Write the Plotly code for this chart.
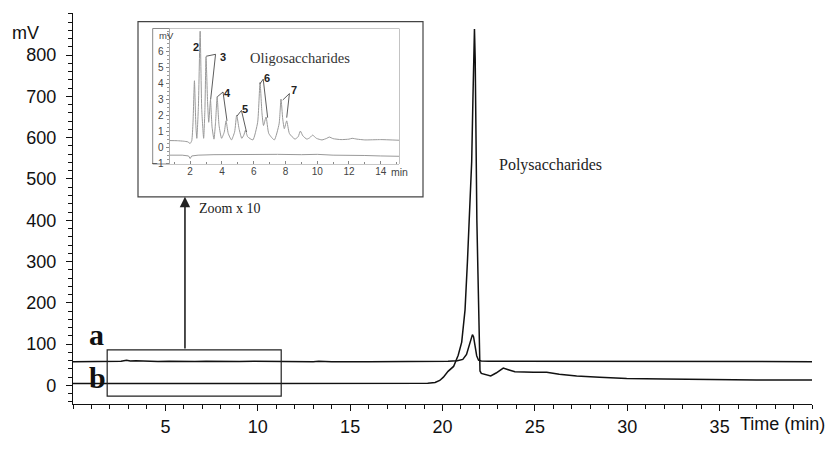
import plotly.graph_objects as go

# ---------------- data ----------------
# main chromatogram a (upper, flat baseline ~58 mV)
a_t = [0, 1, 2, 2.6, 2.9, 3.1, 3.4, 4, 4.6, 5.2, 6, 6.6, 7.2, 7.8, 8.4, 9, 9.8, 10.5, 11.5,
       13, 13.3, 14, 16, 18, 19.5, 20.3, 20.8, 21.1, 21.3, 21.45, 21.55, 21.62, 21.68, 21.75,
       21.85, 21.95, 22.1, 22.5, 23.5, 25, 30, 35, 40]
a_v = [57.5, 57.5, 57.6, 58.5, 61, 59, 59.5, 58.5, 58, 58.6, 57.8, 58.2, 58.6, 57.8, 58.4, 57.9,
       58.5, 58, 57.6, 57.6, 58.3, 57.6, 57.6, 57.6, 57.8, 58.5, 60, 63, 75, 100, 118, 123, 118,
       98, 72, 61, 59, 58.8, 58.8, 58.2, 57.6, 57.5, 57.5]

# main chromatogram b (lower, polysaccharide peak)
b_t = [0, 1, 2, 3, 4, 5, 6, 6.5, 7, 7.5, 8, 8.5, 9, 10, 11, 12, 14, 16, 18, 19.2, 19.6,
       19.85, 20.05, 20.3, 20.6, 20.85, 21.04, 21.22, 21.35, 21.45, 21.58, 21.65, 21.7, 21.73,
       21.77, 21.81, 21.86, 21.92, 21.97, 22.0, 22.03, 22.1, 22.3, 22.61, 22.9, 23.1, 23.29,
       23.56, 23.92, 24.92, 25.64, 26.32, 27.26, 28.5, 29.97, 32, 34.97, 37, 40]
b_v = [4.6, 4.6, 4.8, 4.5, 4.6, 4.5, 4.8, 6, 5.2, 6.2, 5, 5.6, 4.8, 4.6, 4.5, 4.6, 4.6, 4.6,
       4.7, 5, 7, 12, 20, 34, 46, 73, 105, 183, 300, 400, 542, 700, 820, 863, 790, 542, 400,
       270, 181, 100, 35, 29, 26, 23, 30, 36, 42, 38, 33, 32, 32, 27, 23, 20, 17, 15.5, 13.5,
       13, 13]

# inset: oligosaccharides (zoom x 10)
o_t = [0.7, 1.2, 1.6, 1.85, 2.0, 2.1, 2.18, 2.27, 2.36, 2.42, 2.52, 2.63, 2.73, 2.85, 2.93,
       3.0, 3.1, 3.17, 3.28, 3.38, 3.5, 3.6, 3.7, 3.82, 3.98, 4.15, 4.26, 4.4, 4.6, 4.8, 4.93,
       5.08, 5.25, 5.38, 5.48, 5.62, 5.95, 6.25, 6.4, 6.52, 6.62, 6.78, 6.95, 7.3, 7.6, 7.72,
       7.83, 7.93, 8.08, 8.25, 8.6, 8.8, 8.94, 9.1, 9.35, 9.55, 9.71, 9.95, 10.3, 10.6, 10.76,
       11.0, 11.5, 12.0, 12.2, 12.5, 13.0, 14.0, 15.15]
o_v = [0.46, 0.45, 0.42, 0.38, 0.28, 0.45, 1.6, 4.19, 1.4, 0.6, 2.6, 7.28, 2.4, 0.6, 2.4,
       5.69, 2.8, 1.6, 2.99, 1.3, 0.55, 1.6, 3.19, 1.4, 0.6, 1.0, 1.69, 0.9, 0.5, 1.0, 2.05,
       1.2, 0.6, 0.8, 1.1, 0.7, 0.5, 1.6, 4.09, 2.2, 1.4, 1.93, 0.9, 0.5, 1.5, 3.05, 1.8, 1.2,
       1.69, 0.9, 0.55, 0.7, 1.05, 0.75, 0.55, 0.65, 0.8, 0.6, 0.5, 0.6, 0.68, 0.58, 0.52,
       0.55, 0.6, 0.55, 0.5, 0.52, 0.48]
l_t = [0.7, 1.5, 1.9, 2.0, 2.1, 2.5, 3.5, 5, 6.5, 7.5, 9, 10, 11, 12, 13, 14, 15.15]
l_v = [-0.45, -0.45, -0.5, -0.66, -0.5, -0.45, -0.42, -0.4, -0.38, -0.4, -0.42, -0.4,
       -0.45, -0.45, -0.47, -0.5, -0.52]

main_yticks = [0, 100, 200, 300, 400, 500, 600, 700, 800]
main_xticks = [5, 10, 15, 20, 25, 30, 35]
inset_xticks = [2, 4, 6, 8, 10, 12, 14]
inset_yticks = [-1, 0, 1, 2, 3, 4, 5, 6]

# peak labels of inset
peak_labels = ["2", "3", "4", "5", "6", "7"]
label_xy = [(2.38, 6.3), (4.05, 5.7), (4.38, 3.4), (5.45, 2.4), (6.85, 4.35), (8.55, 3.6)]
leaders = [None,
           [(3.01, 5.72), (3.6, 5.84), (3.29, 3.01)],
           [(3.71, 3.19), (4.07, 3.49), (4.32, 1.69)],
           [(4.95, 1.99), (5.23, 2.34), (5.55, 0.99)],
           [(6.39, 3.99), (6.6, 4.29), (6.88, 1.89)],
           [(7.83, 2.99), (8.25, 3.39), (8.08, 1.89)]]

SANS = "Liberation Sans, Arial, sans-serif"
SERIF = "Liberation Serif, Times New Roman, serif"

fig = go.Figure()
fig.add_trace(go.Scatter(x=a_t, y=a_v, mode="lines", line=dict(color="#111", width=1.5),
                         showlegend=False, hoverinfo="skip"))
fig.add_trace(go.Scatter(x=b_t, y=b_v, mode="lines", line=dict(color="#111", width=1.5),
                         showlegend=False, hoverinfo="skip"))
fig.add_trace(go.Scatter(x=o_t, y=o_v, mode="lines",
                         line=dict(color="#999", width=1, shape="spline", smoothing=0.5),
                         xaxis="x2", yaxis="y2", showlegend=False, hoverinfo="skip"))
fig.add_trace(go.Scatter(x=l_t, y=l_v, mode="lines", line=dict(color="#999", width=1),
                         xaxis="x2", yaxis="y2", showlegend=False, hoverinfo="skip"))

W, H = 831, 449
L, R, T, B = 73, 19, 13, 32
pw, ph = W - L - R, H - T - B


def px(x):
    return (x - L) / pw


def py(y):
    return (H - B - y) / ph


shapes = [
    dict(type="rect", xref="paper", yref="paper", x0=px(138), x1=px(423), y0=py(203), y1=py(22),
         line=dict(color="#444", width=1.2), fillcolor="white", layer="below"),
    dict(type="rect", xref="paper", yref="paper", x0=px(152.7), x1=px(399), y0=py(169), y1=py(29),
         line=dict(color="#888", width=1), fillcolor="white", layer="below"),
    dict(type="rect", xref="x", yref="y", x0=1.85, x1=11.27, y0=-26, y1=86,
         line=dict(color="#222", width=1.2), layer="above"),
]
for ld in leaders:
    if ld is None:
        continue
    (x1, y1), (xa, ya), (x2, y2) = ld
    shapes.append(dict(type="line", xref="x2", yref="y2", x0=xa, y0=ya, x1=x1, y1=y1,
                       line=dict(color="#333", width=0.8)))
    shapes.append(dict(type="line", xref="x2", yref="y2", x0=xa, y0=ya, x1=x2, y1=y2,
                       line=dict(color="#333", width=0.8)))

annotations = [
    dict(text="mV", xref="paper", yref="paper", x=px(25), y=py(34), showarrow=False,
         font=dict(family=SANS, size=18, color="#111"), xanchor="center", yanchor="middle"),
    dict(text="Time (min)", xref="x", yref="paper", x=36.0, y=0, yshift=-20, showarrow=False,
         font=dict(family=SANS, size=18, color="#111"), xanchor="left", yanchor="middle"),
    dict(text="<b>a</b>", xref="x", yref="y", x=1.25, y=124, showarrow=False,
         font=dict(family=SERIF, size=30, color="#111"), xanchor="center", yanchor="middle"),
    dict(text="<b>b</b>", xref="x", yref="y", x=1.3, y=19, showarrow=False,
         font=dict(family=SERIF, size=30, color="#111"), xanchor="center", yanchor="middle"),
    dict(text="Polysaccharides", xref="x", yref="y", x=25.87, y=535, showarrow=False,
         font=dict(family=SERIF, size=16, color="#222"), xanchor="center", yanchor="middle"),
    dict(text="Zoom x 10", xref="x", yref="y", x=6.7, y=429, showarrow=False,
         font=dict(family=SERIF, size=14, color="#222"), xanchor="left", yanchor="middle"),
    dict(text="", xref="x", yref="y", x=6.06, y=457, ax=6.06, ay=86, axref="x", ayref="y",
         showarrow=True, arrowhead=2, arrowsize=1.3, arrowwidth=1.6, arrowcolor="#222",
         standoff=0, startstandoff=0),
    dict(text="Oligosaccharides", xref="paper", yref="paper", x=px(300), y=py(60),
         showarrow=False, font=dict(family=SERIF, size=14.5, color="#333"),
         xanchor="center", yanchor="middle"),
    dict(text="mV", xref="paper", yref="paper", x=px(166), y=py(36), showarrow=False,
         font=dict(family=SANS, size=9.5, color="#444"), xanchor="center", yanchor="middle"),
    dict(text="min", xref="paper", yref="paper", x=px(399), y=py(177), showarrow=False,
         font=dict(family=SANS, size=10.5, color="#444"), xanchor="center", yanchor="middle"),
]
for lab, (lx, ly) in zip(peak_labels, label_xy):
    annotations.append(dict(text="<b>%s</b>" % lab, xref="x2", yref="y2", x=lx, y=ly,
                            showarrow=False, font=dict(family=SANS, size=11, color="#222"),
                            xanchor="center", yanchor="middle"))

fig.update_layout(
    width=W, height=H, autosize=False,
    margin=dict(l=L, r=R, t=T, b=B, pad=0),
    paper_bgcolor="white", plot_bgcolor="white",
    showlegend=False,
    xaxis=dict(range=[0, 40], domain=[0, 1], showline=True, linecolor="#111", linewidth=1.3,
               showgrid=False, zeroline=False, tickmode="array", tickvals=main_xticks,
               ticks="outside", ticklen=6, tickwidth=1.2, tickcolor="#111",
               minor=dict(tick0=0, dtick=1, ticks="outside", ticklen=4, tickwidth=1,
                          tickcolor="#111", showgrid=False),
               tickfont=dict(family=SANS, size=18, color="#111")),
    yaxis=dict(range=[-45, 902], domain=[0, 1], showline=True, linecolor="#111", linewidth=1.3,
               showgrid=False, zeroline=False, tickmode="array", tickvals=main_yticks,
               ticks="outside", ticklen=6, tickwidth=1.2, tickcolor="#111",
               ticklabelstandoff=6,
               minor=dict(tick0=0, dtick=20, ticks="outside", ticklen=4, tickwidth=1,
                          tickcolor="#111", showgrid=False),
               tickfont=dict(family=SANS, size=18, color="#111")),
    xaxis2=dict(range=[0.7, 15.15], domain=[px(169.5), px(399)], anchor="y2",
                showline=False, showgrid=False, zeroline=False, tickmode="array",
                tickvals=inset_xticks, ticks="inside", ticklen=3, tickcolor="#888",
                minor=dict(tick0=0, dtick=1, ticks="inside", ticklen=2, tickcolor="#888"),
                tickfont=dict(family=SANS, size=10, color="#444")),
    yaxis2=dict(range=[-1, 7.45], domain=[py(169), py(29)], anchor="x2",
                showline=True, linecolor="#aaa", linewidth=1, showgrid=False, zeroline=False,
                tickmode="array", tickvals=inset_yticks, ticks="outside", ticklen=3,
                tickcolor="#888",
                minor=dict(tick0=0, dtick=0.25, ticks="outside", ticklen=2, tickcolor="#999"),
                tickfont=dict(family=SANS, size=10, color="#444")),
    shapes=shapes,
    annotations=annotations,
)

fig.write_html("out.html")
